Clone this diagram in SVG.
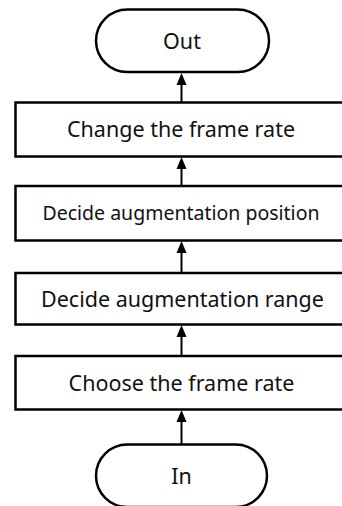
<svg xmlns="http://www.w3.org/2000/svg" width="342" height="506" viewBox="0 0 342 506">
<style>
.n{fill:#fff;stroke:#000;stroke-width:2.5}
.t{font-family:"Noto Sans","Open Sans",sans-serif;font-size:21.5px;fill:#111;text-anchor:middle}
.c{stroke:#000;stroke-width:2;fill:none}
.h{fill:#000}
</style>
<g id="connectors">
<path class="c" d="M181.5,102 V85"/><path class="h" d="M181.5,73 L186.5,85 L176.5,85 Z"/>
<path class="c" d="M181.5,186 V169"/><path class="h" d="M181.5,157 L186.5,169 L176.5,169 Z"/>
<path class="c" d="M181.5,273 V253"/><path class="h" d="M181.5,241 L186.5,253 L176.5,253 Z"/>
<path class="c" d="M181.5,356 V337"/><path class="h" d="M181.5,325 L186.5,337 L176.5,337 Z"/>
<path class="c" d="M181.5,444 V422"/><path class="h" d="M181.5,410 L186.5,422 L176.5,422 Z"/>
</g>
<g id="out">
<rect class="n" x="96" y="9.5" width="173" height="62.5" rx="31.25"/>
<text class="t" x="182" y="48.5">Out</text>
</g>
<g id="change">
<rect class="n" x="15.5" y="102.5" width="332" height="54"/>
<text class="t" x="181" y="137">Change the frame rate</text>
</g>
<g id="position">
<rect class="n" x="15.5" y="186" width="332" height="54.5"/>
<text class="t" x="181" y="220" style="font-size:19.5px">Decide augmentation position</text>
</g>
<g id="range">
<rect class="n" x="15.5" y="273" width="332" height="51.5"/>
<text class="t" x="182.5" y="306.5">Decide augmentation range</text>
</g>
<g id="choose">
<rect class="n" x="15.5" y="356" width="332" height="53.5"/>
<text class="t" x="181.5" y="390.5">Choose the frame rate</text>
</g>
<g id="in">
<rect class="n" x="96" y="444.5" width="171" height="62.5" rx="31.25"/>
<text class="t" x="181.5" y="483.5">In</text>
</g>
</svg>
